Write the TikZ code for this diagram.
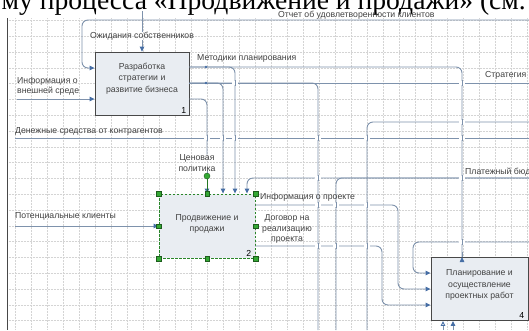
\documentclass[tikz,border=0pt]{standalone}
\usepackage{fontspec}
\setmainfont{Liberation Serif}
\newfontfamily\diagfont{Liberation Sans}
\usetikzlibrary{arrows.meta}
\definecolor{flowc}{RGB}{126,146,172}
\definecolor{tipc}{RGB}{70,110,165}
\definecolor{boxc}{RGB}{233,237,242}
\definecolor{edgec}{RGB}{72,72,72}
\definecolor{textc}{RGB}{66,66,66}
\definecolor{selc}{RGB}{52,168,52}
\definecolor{gridc}{RGB}{212,212,212}
\def\right{529}
\def\bottom{330}

\tikzset{
  flow/.style={draw=flowc, line width=0.9pt, rounded corners=6pt},
  flowarrow/.style={flow, -{Triangle[length=5pt,width=4.5pt,color=tipc]}},
  flowtag/.style={font=\diagfont\fontsize{8.7}{10.2}\selectfont, text=textc, inner sep=0pt, align=center},
  process/.style={draw=edgec, fill=boxc, line width=0.9pt, minimum width=94pt, minimum height=63pt, inner sep=0pt},
  proctext/.style={font=\diagfont\fontsize{8.7}{11.8}\selectfont, text=textc, align=center, inner sep=0pt},
  procnum/.style={font=\diagfont\fontsize{8.7}{10}\selectfont, text=black, inner sep=0pt, anchor=south east},
  handle/.style={draw=selc!55!black, fill=selc, minimum size=4.5pt, inner sep=0pt, line width=0.4pt},
  rothandle/.style={handle, circle, minimum size=6pt},
  gridline/.style={draw=gridc, line width=0.5pt, densely dotted},
}

\begin{document}
\begin{tikzpicture}[x=1pt,y=-1pt]
  \useasboundingbox (0,0) rectangle (\right,\bottom);
  \fill[white] (0,0) rectangle (\right,\bottom);

  % grid and frame
  \foreach \gx in {0,...,32}
    \draw[gridline] ({15+16*\gx},18) -- ({15+16*\gx},\bottom);
  \foreach \gy in {0,...,19}
    \draw[gridline] (7,{20.4+15.8*\gy}) -- (\right,{20.4+15.8*\gy});
  \draw[edgec, line width=0.8pt] (7,18) -- (7,\bottom);

  \node[anchor=base west, inner sep=0pt, font=\fontsize{27.6}{30}\selectfont] (heading) at (1.5,9.8)
    {му процесса «Продвижение и продажи» (см.};

  % boxes
  \node[process] (b1) at (142,83.6) {};
  \node[process, minimum width=96pt, minimum height=64pt, draw=selc!80!black,
        dash pattern=on 2.5pt off 1.5pt] (b2) at (207,226) {};
  \node[process, minimum width=97pt] (b4) at (479.5,289) {};

  % free ends
  \coordinate (fbin) at (\right,20);
  \coordinate (ownin) at (142,11);
  \coordinate (envin) at (17,99);
  \coordinate (custin) at (15,226);
  \coordinate (cashin) at (15,138);
  \coordinate (cashout) at (\right,138);
  \coordinate (stratout) at (\right,83);
  \coordinate (budgin) at (\right,178);
  \coordinate (loopin) at (\right,122);
  \coordinate (backin) at (\right,242);
  \coordinate (down318) at (318,\bottom);
  \coordinate (down336) at (336,\bottom);
  \coordinate (down367) at (367,\bottom);
  \coordinate (mech1) at (443,\bottom);
  \coordinate (mech2) at (453,\bottom);

  % box 1
  \draw[flowarrow] (fbin) -- (82,20) |- (b1.west |- 0,68);
  \node[flowtag, anchor=west] (lfb) at (278,15) {Отчет об удовлетворенности клиентов};
  \node[flowtag] (lown) at (142,36) {Ожидания собственников};
  \draw[flow] (ownin) -- (lown.north);
  \draw[flowarrow] (lown) -- (b1);
  \node[flowtag, align=left, anchor=north west] (lenv) at (17,77) {Информация о\\внешней среде};
  \draw[flowarrow] (envin) -- (envin -| b1.west);

  \draw[flow] (b1.east |- 0,67) -| (b4.north -| 462,0);
  \draw[flowarrow] (b4.north -| 462,240) -- (b4.north -| 462,0);
  \draw[flowarrow] (b1.east |- 0,67) -| (b2.north -| 235,0);
  \node[flowtag, anchor=west] (lmeth) at (197,58) {Методики планирования};
  \draw[flow] (b1.east |- 0,83) -- (stratout);
  \draw[flowarrow] (b1.east |- 0,83) -| (b2.north -| 223,0);
  \draw[flow] (b1.east |- 0,83) -| (down318);
  \node[flowtag, anchor=west] (lstrat) at (485,75) {Стратегия};
  \node[flowtag] (lprice) at (197,163) {Ценовая\\политика};
  \draw[flow] (b1.east |- 0,99) -| (lprice.north -| b2.north);
  \draw[flowarrow] (lprice.south -| b2.north) -- (b2.north);
  \fill[tipc] (206,67) circle (1.3);
  \fill[tipc] (206,83) circle (1.3);

  % box 2
  \draw[flow] (cashin) -- (cashout);
  \node[flowtag, anchor=west] (lcash) at (15,131) {Денежные средства от контрагентов};
  \draw[flowarrow] (custin) -- (custin -| b2.west);
  \node[flowtag, anchor=west] (lcust) at (15,216) {Потенциальные клиенты};
  \draw[flowarrow] (budgin) -| (b2.north -| 247,0);
  \draw[flow] (budgin) -| (down336);
  \node[flowtag, anchor=west] (lbudg) at (465,172) {Платежный бюджет};
  \draw[flow] (loopin) -| (down367);

  % box 4
  \draw[flowarrow] (b2.east |- 0,205) -- (398,205) |- (b4.west |- 0,289);
  \node[flowtag, anchor=west] (linfo) at (260,197) {Информация о проекте};
  \draw[flowarrow] (b2.east |- 0,246) -- (382,246) |- (b4.west |- 0,305);
  \node[flowtag] (lcontr) at (287,229) {Договор на\\реализацию\\проекта};
  \draw[flowarrow] (backin) -- (413,242) |- (b4.west |- 0,273);
  \draw[flow, -{Triangle[open,length=5pt,width=4.5pt,color=tipc]}] (mech1) -- (mech1 |- b4.south);
  \draw[flowarrow] (mech2) -- (mech2 |- b4.south);

  % crossings
  \foreach \cx/\cy in {235/83, 462/83, 462/122, 207/138, 223/138, 235/138, 318/138,
      367/138, 462/138, 318/178, 462/178, 318/205, 336/205, 367/205, 318/246,
      336/246, 367/246, 462/242} {
    \fill[white] (\cx-3,\cy-1.6) rectangle (\cx+3,\cy+1.6);
    \draw[flow] (\cx,\cy-3) -- (\cx,\cy+3);
  }

  % box texts
  \node[proctext] (t1) at ([yshift=5pt]b1.center) {Разработка\\стратегии и\\развитие бизнеса};
  \node[procnum] (n1) at ([xshift=-3pt,yshift=2pt]b1.south east) {1};
  \node[proctext] (t2) at ([yshift=2pt]b2.center) {Продвижение и\\продажи};
  \node[procnum] (n2) at ([xshift=-4pt,yshift=2pt]b2.south east) {2};
  \node[proctext] (t4) at ([yshift=4pt]b4.center) {Планирование и\\осуществление\\проектных работ};
  \node[procnum] (n4) at ([xshift=-4pt,yshift=2pt]b4.south east) {4};

  % selection handles
  \foreach \hp/\hn in {north west/nw, north/n, north east/ne, west/w, east/e,
      south west/sw, south/s, south east/se}
    \node[handle] (h\hn) at (b2.\hp) {};
  \node[rothandle] (hrot) at (207,176) {};
  \draw[selc!70!black, line width=0.6pt] (hrot) -- (hn);
\end{tikzpicture}
\end{document}
